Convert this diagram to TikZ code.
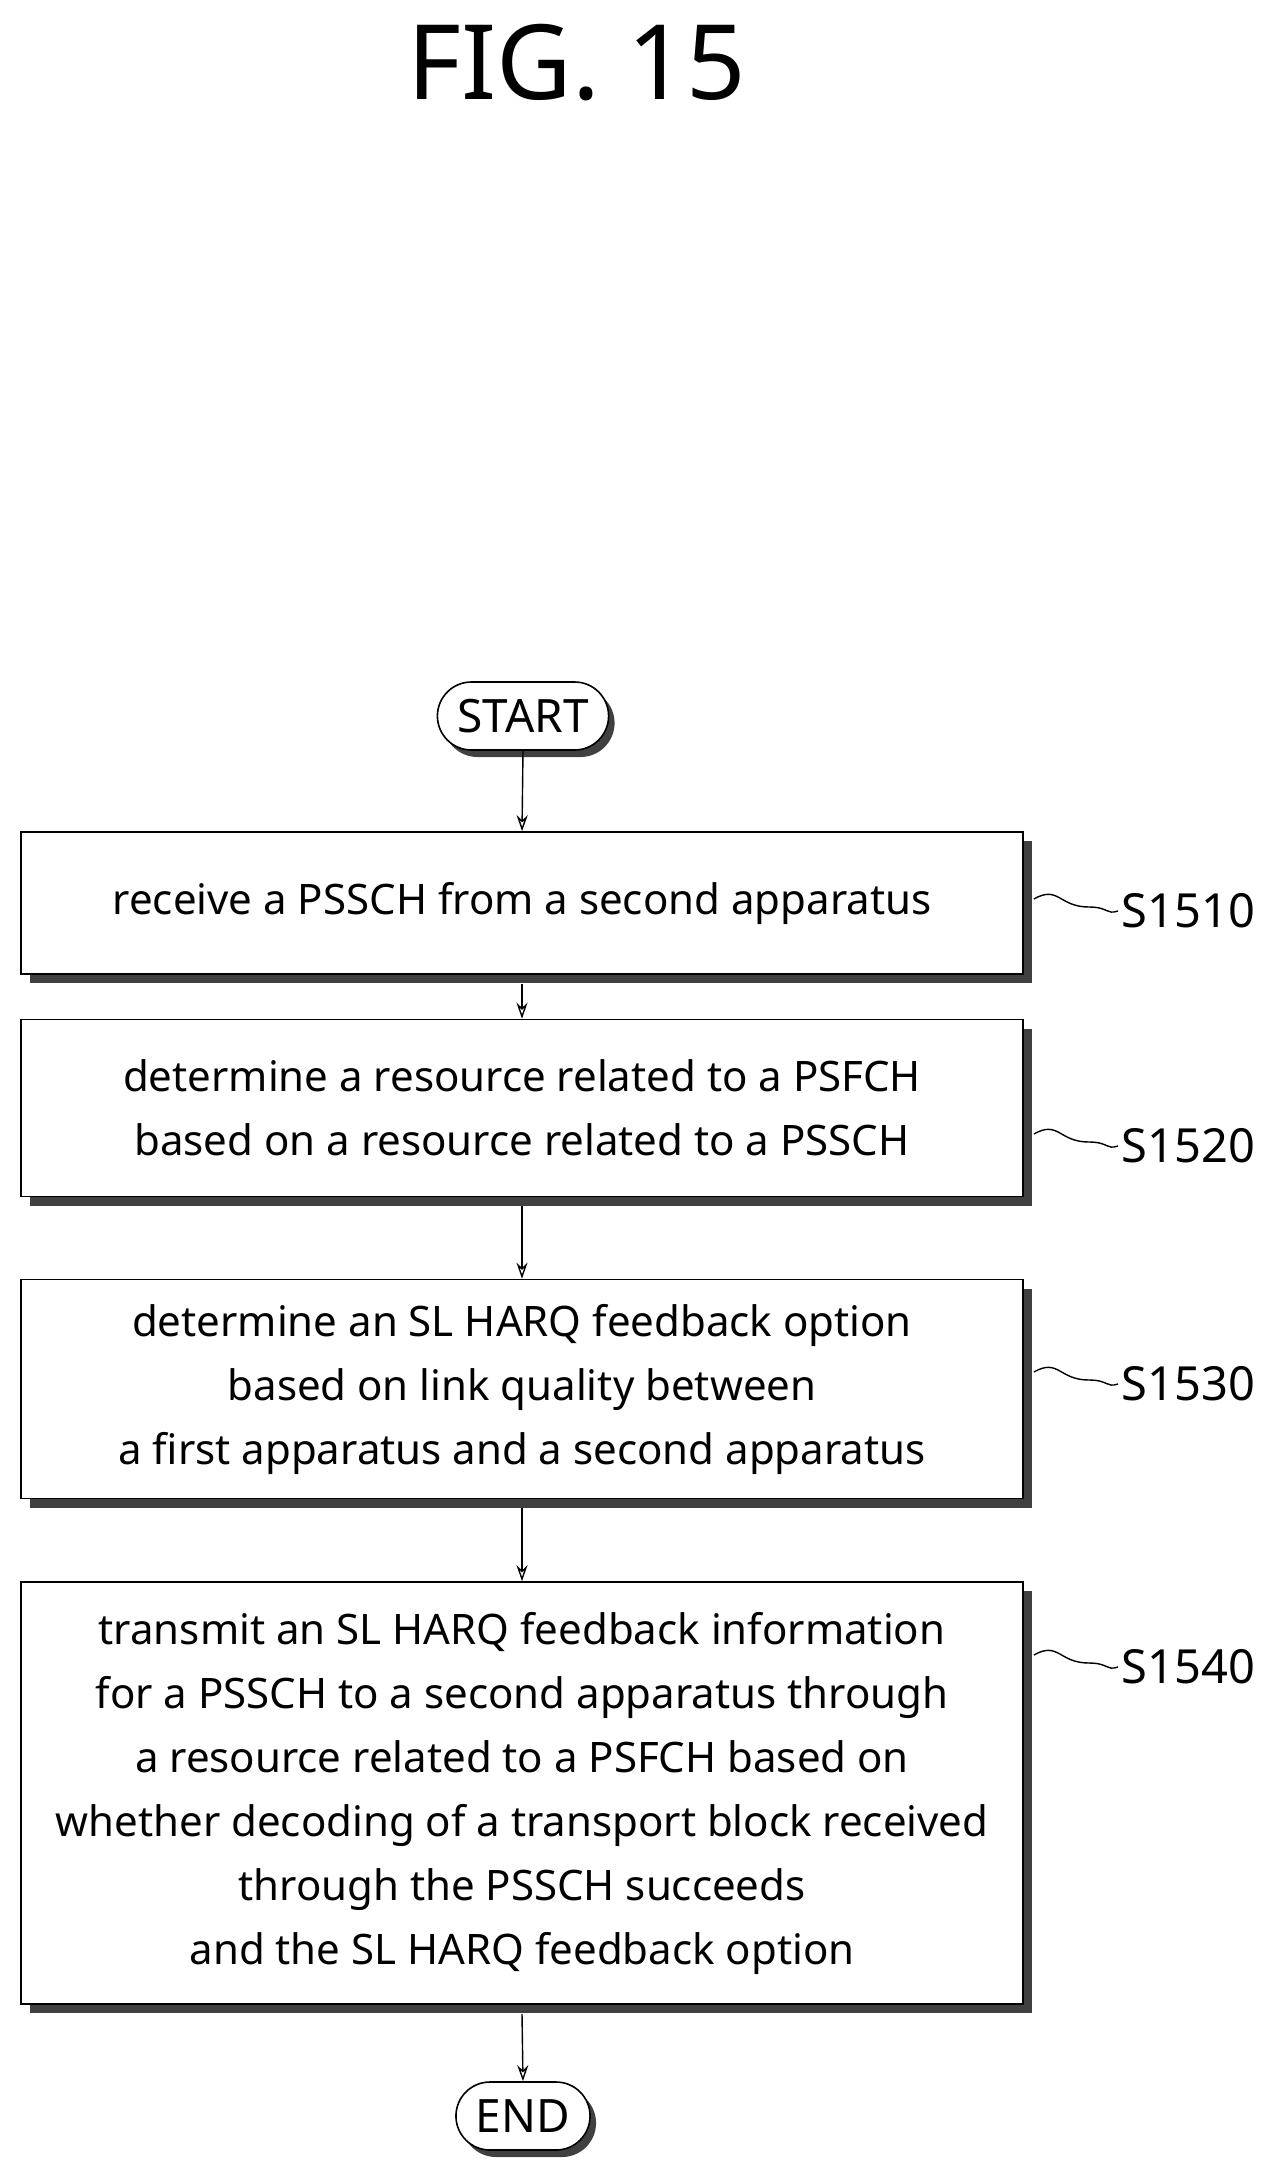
\documentclass[tikz,border=0pt]{standalone}
\usepackage{fontspec}
\setmainfont{Noto Sans}
\usetikzlibrary{arrows.meta,shadows}
\begin{document}
\begin{tikzpicture}[x=1pt,y=-1pt,
  box/.style={draw,line width=1.6pt,fill=white,minimum width=1002pt,align=center,font=\fontsize{42}{64}\selectfont,
    drop shadow={shadow xshift=9pt,shadow yshift=-9pt,fill=black!75,opacity=1}},
  term/.style={draw,line width=1.6pt,fill=white,rounded corners=34pt,minimum height=68pt,inner xsep=20pt,font=\fontsize{46}{50}\selectfont,
    drop shadow={shadow xshift=6pt,shadow yshift=-7pt,fill=black!75,opacity=1}},
  lab/.style={font=\fontsize{47}{50}\selectfont,anchor=west},
  arr/.style={line width=1.4pt,-{Stealth[length=16pt,width=11pt,open]}},
  sq/.style={line width=1.4pt}]
\useasboundingbox (0,0) rectangle (1269,2170);
\node[font=\fontsize{104}{110}\selectfont] (title) at (577,63) {FIG. 15};
\node[term] (start) at (523,716) {START};
\node[box,minimum height=142pt] (b1) at (522,903) {receive a PSSCH from a second apparatus};
\node[box,minimum height=177pt] (b2) at (522,1108) {determine a resource related to a PSFCH\\based on a resource related to a PSSCH};
\node[box,minimum height=219pt] (b3) at (522,1389) {determine an SL HARQ feedback option\\based on link quality between\\a first apparatus and a second apparatus};
\node[box,minimum height=422pt] (b4) at (522,1793) {transmit an SL HARQ feedback information\\for a PSSCH to a second apparatus through\\a resource related to a PSFCH based on\\whether decoding of a transport block received\\through the PSSCH succeeds\\and the SL HARQ feedback option};
\node[term] (end) at (523,2116) {END};
\node[lab] (l1) at (1118,911) {S1510};
\node[lab] (l2) at (1118,1146) {S1520};
\node[lab] (l3) at (1118,1384) {S1530};
\node[lab] (l4) at (1118,1667) {S1540};
\foreach \b/\l in {b1/l1,b2/l2,b3/l3,b4/l4}{
  \draw[sq] (\b.east |- \l.west) ++(10,-12) .. controls +(25,-14) and +(-30,0) .. ++(55,8)
     .. controls +(20,0) and +(-12,4) .. (\l.west);
}
\draw[arr] (start.south) -- (b1.north);
\draw[arr] (b1.south) ++(0,9) -- (b2.north);
\draw[arr] (b2.south) ++(0,9) -- (b3.north);
\draw[arr] (b3.south) ++(0,9) -- (b4.north);
\draw[arr] (b4.south) ++(0,9) -- (end.north);
\end{tikzpicture}
\end{document}
